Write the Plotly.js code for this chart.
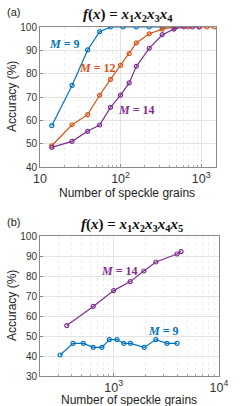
<!DOCTYPE html>
<html>
<head>
<meta charset="utf-8">
<script src="https://cdn.plot.ly/plotly-3.0.1.min.js"></script>
<style>html,body{margin:0;padding:0;background:#fff;}#chart{width:240px;height:406px;}</style>
</head>
<body>
<div id="chart"></div>
<script>
// Panel (a): f(x) = x1x2x3x4
const a_m9_x = [14, 25, 39, 55, 75, 107, 157, 227, 329, 476];
const a_m9_y = [57.8, 75, 90.2, 98, 100, 100, 100, 100, 100, 100];
const a_m12_x = [14, 25, 39, 55, 75, 100, 128, 157, 227, 329, 476, 690, 944, 1175, 1462];
const a_m12_y = [49.2, 58.2, 62.5, 70.8, 77.6, 83.6, 88.6, 93.2, 97.1, 99.1, 100, 100, 100, 100, 100];
const a_m14_x = [14, 25, 39, 55, 75, 100, 128, 157, 227, 329, 460, 611, 780, 944];
const a_m14_y = [48.5, 51.1, 55.4, 58.1, 65.6, 70.9, 76.1, 83.2, 90.9, 96.7, 99.1, 100, 100, 100];
// Panel (b): f(x) = x1x2x3x4x5
const b_m14_x = [359, 640, 1000, 1435, 1935, 2518, 4000, 4365];
const b_m14_y = [55.2, 64.8, 72.7, 77.2, 82.5, 87, 91, 92.2];
const b_m9_x = [310, 412, 516, 640, 774, 910, 1077, 1247, 1444, 1951, 2518, 3206, 4000];
const b_m9_y = [40.5, 46.3, 46.3, 44.3, 44.3, 48.2, 48.2, 46.3, 46.3, 44.3, 48.2, 46.3, 46.3];

const BLUE = '#0072BD', ORANGE = '#D95319', PURPLE = '#7E2F8E';
const W = 240, H = 406;
const px = x => x / W, py = y => 1 - y / H;

function tr(x, y, c, xa, ya) {
  return {x: x, y: y, xaxis: xa, yaxis: ya, type: 'scatter', mode: 'lines+markers',
    line: {color: c, width: 1.2},
    marker: {symbol: 'circle-open', size: 4, color: c, line: {width: 1.2, color: c}},
    showlegend: false, hoverinfo: 'skip'};
}

const data = [
  tr(a_m9_x, a_m9_y, BLUE, 'x', 'y'),
  tr(a_m12_x, a_m12_y, ORANGE, 'x', 'y'),
  tr(a_m14_x, a_m14_y, PURPLE, 'x', 'y'),
  tr(b_m14_x, b_m14_y, PURPLE, 'x2', 'y2'),
  tr(b_m9_x, b_m9_y, BLUE, 'x2', 'y2')
];

const tickFont = {family: 'Liberation Sans, Arial, sans-serif', size: 10, color: '#333'};
const axCommon = {
  showline: true, mirror: true, linecolor: '#8a8a8a', linewidth: 1,
  showgrid: true, gridcolor: '#e3e3e3', gridwidth: 1,
  ticks: 'inside', ticklen: 3, tickcolor: '#8a8a8a',
  tickfont: tickFont, zeroline: false, automargin: false, fixedrange: true
};
const xLog = Object.assign({}, axCommon, {
  type: 'log', dtick: 1, exponentformat: 'power', ticklabelstandoff: 0,
  minor: {showgrid: true, gridcolor: '#eeeeee', griddash: 'dot', ticks: 'inside', ticklen: 2, tickcolor: '#aaa'}
});

const serif = 'Liberation Serif, DejaVu Serif, serif';
const titleA = '<b><i>f</i>(<i>x</i>) = <i>x</i><sub>1</sub><i>x</i><sub>2</sub><i>x</i><sub>3</sub><i>x</i><sub>4</sub></b>';
const titleB = '<b><i>f</i>(<i>x</i>) = <i>x</i><sub>1</sub><i>x</i><sub>2</sub><i>x</i><sub>3</sub><i>x</i><sub>4</sub><i>x</i><sub>5</sub></b>';

function ann(text, x, y, opts) {
  return Object.assign({text: text, x: px(x), y: py(y), xref: 'paper', yref: 'paper',
    showarrow: false, xanchor: 'center', yanchor: 'middle'}, opts);
}
const sansTitle = {family: 'Liberation Sans, Arial, sans-serif', size: 12, color: '#222'};
const mFont = c => ({family: serif, size: 12, color: c});

const layout = {
  width: W, height: H, margin: {l: 0, r: 0, t: 0, b: 0},
  paper_bgcolor: '#fff', plot_bgcolor: '#fff', showlegend: false,
  xaxis: Object.assign({}, xLog, {domain: [px(40), px(216)], range: [1, Math.log10(1530)], anchor: 'y'}),
  yaxis: Object.assign({}, axCommon, {domain: [py(167.3), py(27)], range: [40, 100], dtick: 10, anchor: 'x'}),
  xaxis2: Object.assign({}, xLog, {domain: [px(40), px(219)], range: [Math.log10(200), 4], anchor: 'y2'}),
  yaxis2: Object.assign({}, axCommon, {domain: [py(376), py(236)], range: [30, 100], dtick: 10, anchor: 'x2'}),
  annotations: [
    ann(titleA, 128, 15, {font: {family: serif, size: 15, color: '#111'}}),
    ann(titleB, 132, 225, {font: {family: serif, size: 15, color: '#111'}}),
    ann('(a)', 13, 12, {font: {family: 'Liberation Sans, Arial, sans-serif', size: 11, color: '#222'}}),
    ann('(b)', 13, 222, {font: {family: 'Liberation Sans, Arial, sans-serif', size: 11, color: '#222'}}),
    ann('Accuracy (%)', 12, 97, {font: sansTitle, textangle: -90}),
    ann('Accuracy (%)', 12, 306, {font: sansTitle, textangle: -90}),
    ann('Number of speckle grains', 127, 192.5, {font: sansTitle}),
    ann('Number of speckle grains', 129, 399.5, {font: sansTitle}),
    ann('<b><i>M</i> = 9</b>', 64, 44, {font: mFont(BLUE)}),
    ann('<b><i>M</i> = 12</b>', 97, 68, {font: mFont(ORANGE)}),
    ann('<b><i>M</i> = 14</b>', 136, 110, {font: mFont(PURPLE)}),
    ann('<b><i>M</i> = 14</b>', 119, 271, {font: mFont(PURPLE)}),
    ann('<b><i>M</i> = 9</b>', 163, 331, {font: mFont(BLUE)})
  ]
};

Plotly.newPlot('chart', data, layout, {staticPlot: true, displayModeBar: false});
</script>
</body>
</html>
